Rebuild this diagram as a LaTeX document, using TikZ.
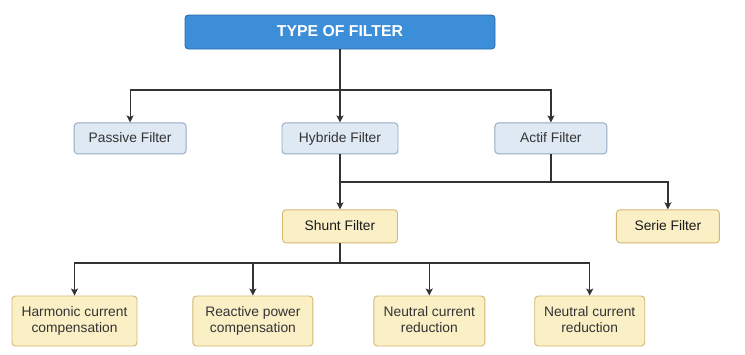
\documentclass[tikz,border=0pt]{standalone}
\usepackage{fontspec}
\setmainfont{Liberation Sans}
\usepackage{xcolor}
\usepackage{tikz}
\usetikzlibrary{arrows.meta,positioning}

\definecolor{titlefill}{HTML}{3D8ED8}
\definecolor{titledraw}{HTML}{2B6BA8}
\definecolor{bluefill}{HTML}{DFE9F4}
\definecolor{bluedraw}{HTML}{93A9C2}
\definecolor{yelfill}{HTML}{FBEFC6}
\definecolor{yeldraw}{HTML}{D5B771}
\definecolor{wire}{HTML}{333333}

\begin{document}
\begin{tikzpicture}[
  x=1pt, y=-1pt,
  base/.style={rounded corners=3.5pt, align=center, inner sep=0pt,
               text=black!80, font=\fontsize{13.8}{16.5}\selectfont, line width=0.9pt},
  oneline/.style={text height=10.5pt, text depth=1.5pt},
  titlebox/.style={base, oneline, fill=titlefill, draw=titledraw, text=white,
                   font=\fontsize{15.8}{18}\selectfont\bfseries,
                   minimum width=310pt, minimum height=34pt},
  bluebox/.style={base, oneline, fill=bluefill, draw=bluedraw, minimum height=31pt},
  yelbox/.style={base, oneline, fill=yelfill, draw=yeldraw, text=black!90,
                 minimum height=33pt},
  leafbox/.style={base, text depth=3pt, fill=yelfill, draw=yeldraw, minimum height=50pt},
  line/.style={draw=wire, line width=1.2pt},
  arr/.style={line, -{Stealth[length=7pt, width=7pt, inset=1.5pt]}},
]
\useasboundingbox (0,0) rectangle (745,354);

\node[titlebox] (title) at (340,32) {TYPE OF FILTER};

\node[bluebox, minimum width=116pt, below=73pt of title] (hybride) {Hybride Filter};
\node[bluebox, minimum width=112pt, left=95pt of hybride] (passive) {Passive Filter};
\node[bluebox, minimum width=112pt, right=96pt of hybride] (actif) {Actif Filter};

\node[yelbox, minimum width=115pt, below=55pt of hybride] (shunt) {Shunt Filter};
\node[yelbox, minimum width=103pt, right=218pt of shunt] (serie) {Serie Filter};

\node[leafbox, minimum width=125pt] (harmonic) at (74.5,321) {Harmonic current\\compensation};
\node[leafbox, minimum width=120pt, right=55pt of harmonic] (reactive) {Reactive power\\compensation};
\node[leafbox, minimum width=111pt, right=60pt of reactive] (neutralA) {Neutral current\\reduction};
\node[leafbox, minimum width=110pt, right=49pt of neutralA] (neutralB) {Neutral current\\reduction};

% buses
\coordinate (bus1) at (340,90);
\coordinate (bus2) at (340,182);
\coordinate (bus3) at (340,263);

\draw[line] (title) -- (bus1);
\draw[arr] (bus1) -| (passive);
\draw[arr] (bus1) -- (hybride);
\draw[arr] (bus1) -| (actif);

\draw[line] (hybride) -- (bus2);
\draw[line] (actif) -- (actif |- bus2);
\draw[arr] (bus2) -- (shunt);
\draw[arr] (bus2) -| (serie);

\draw[line] (shunt) -- (bus3);
\draw[arr] (bus3) -| (harmonic);
\draw[arr] (bus3) -| (reactive);
\draw[arr] (bus3) -| (neutralA);
\draw[arr] (bus3) -| (neutralB);
\end{tikzpicture}
\end{document}
